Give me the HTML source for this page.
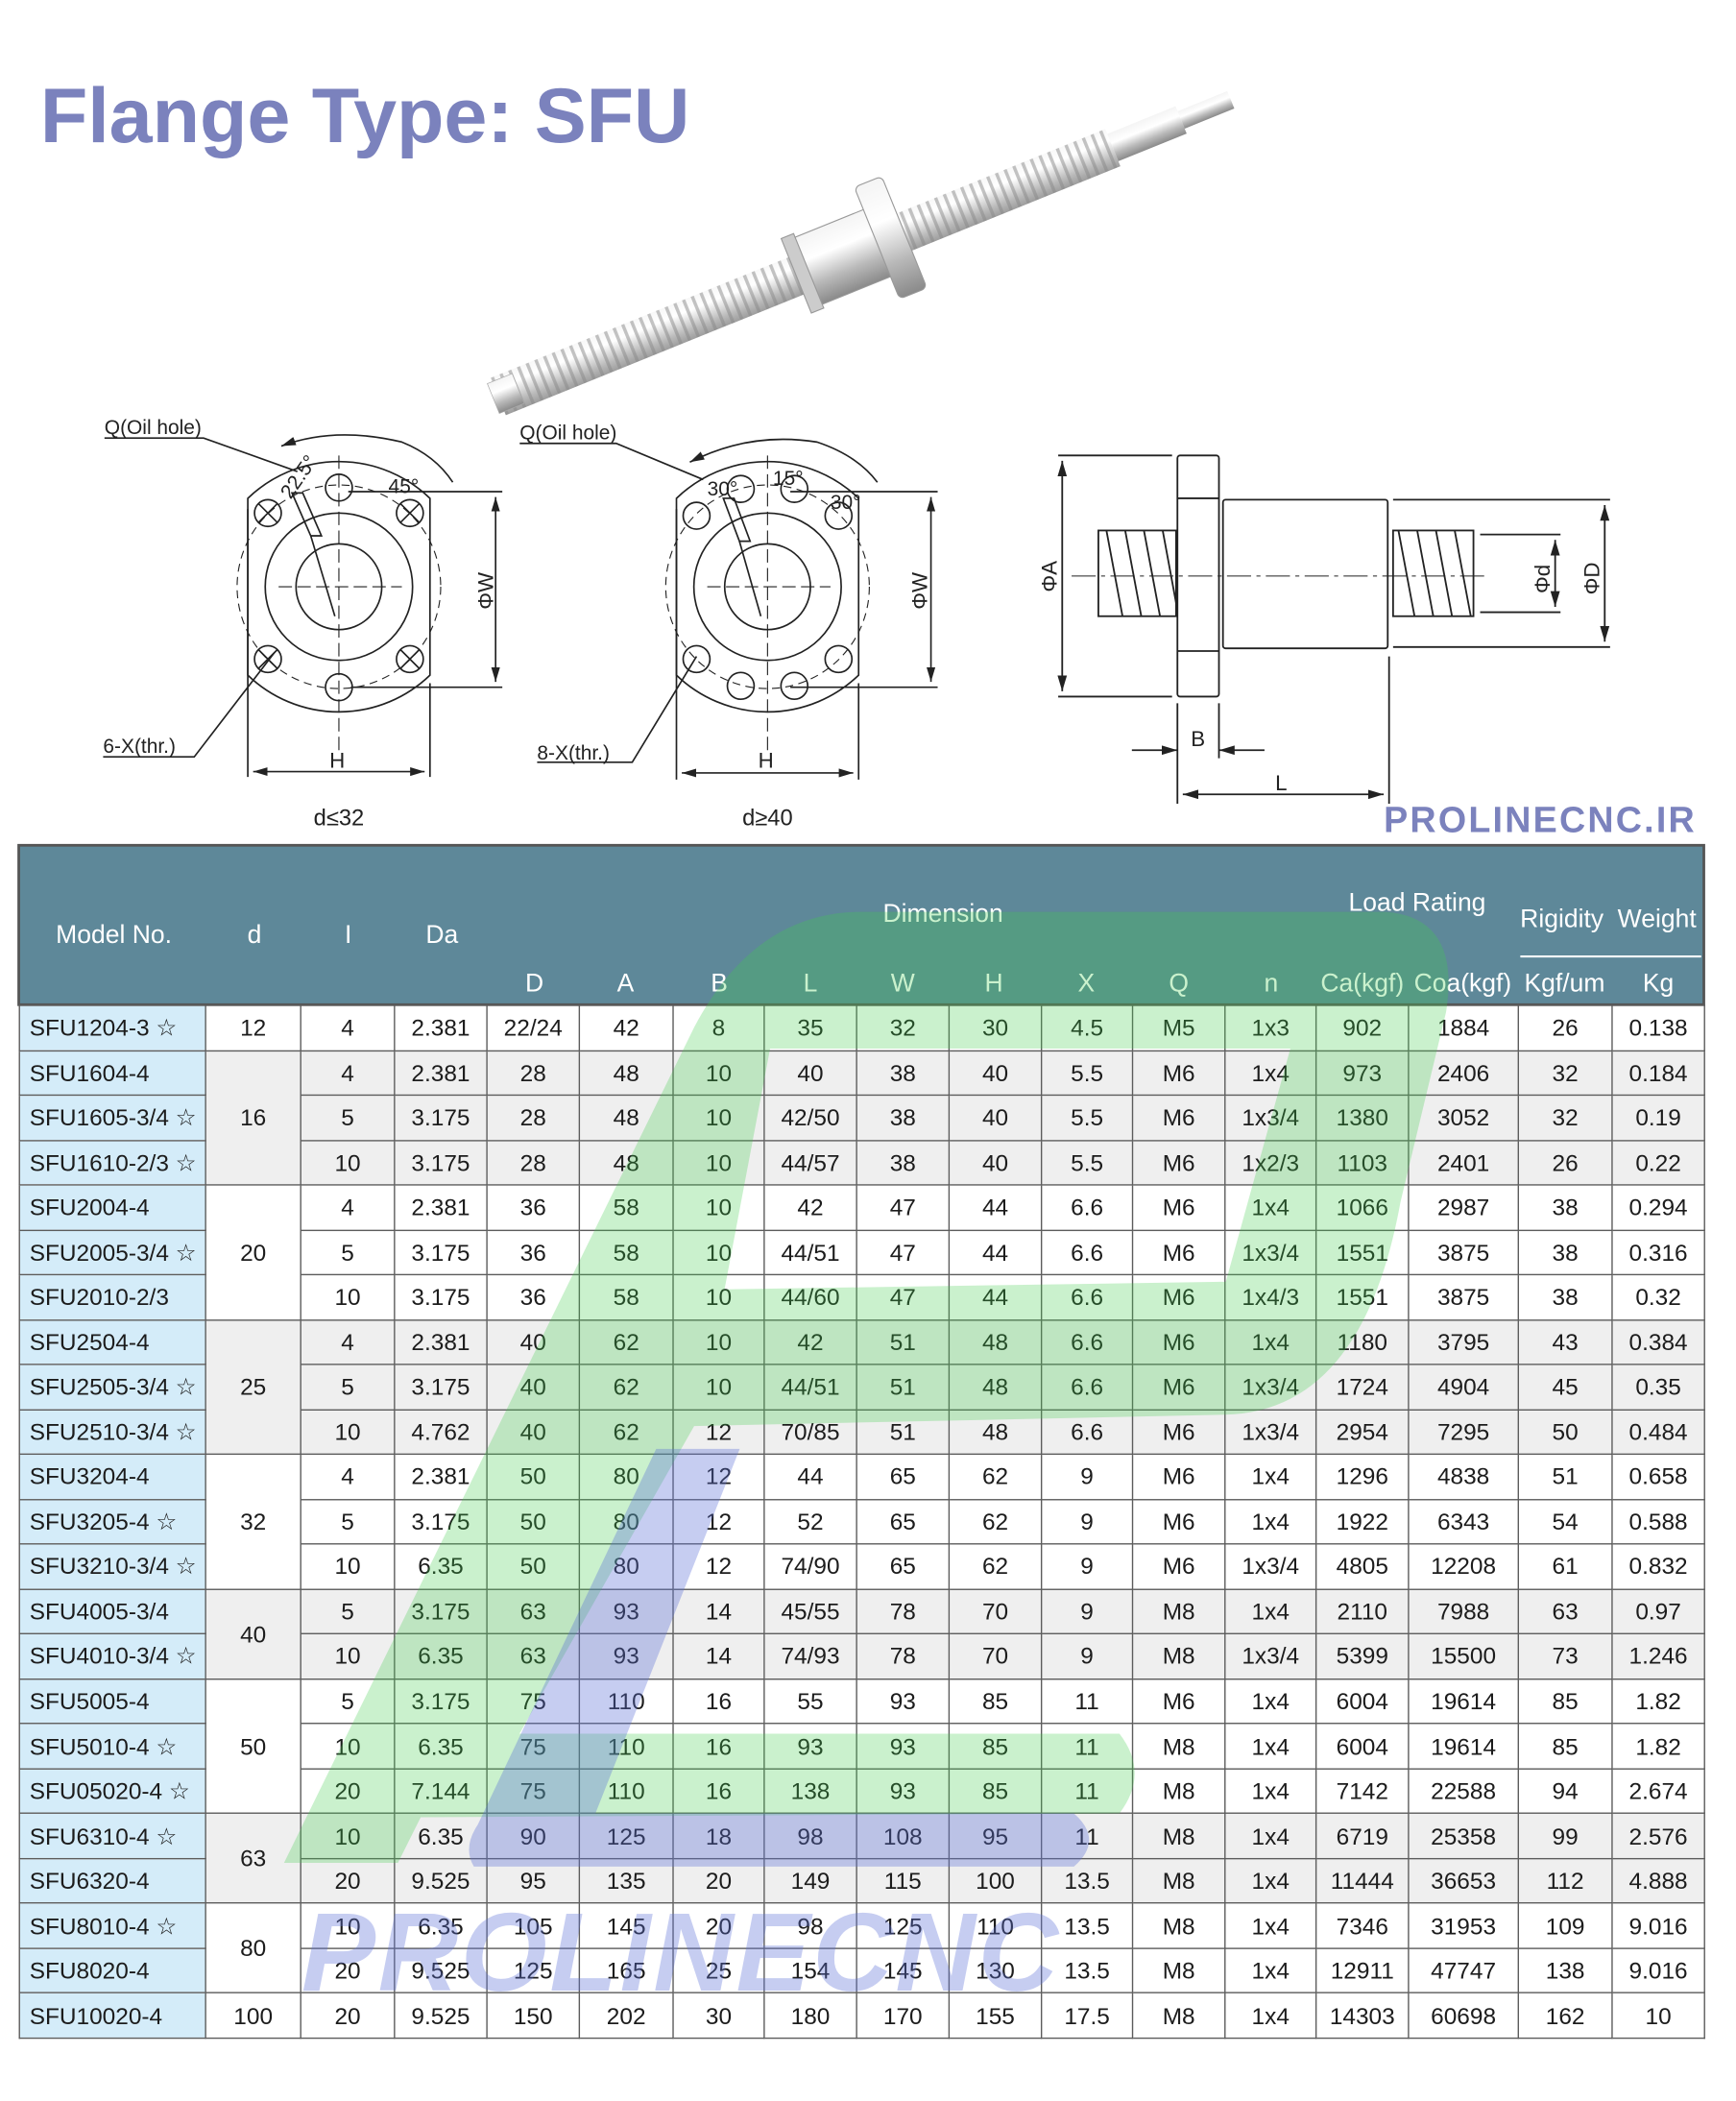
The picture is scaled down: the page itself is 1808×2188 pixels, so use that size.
<!DOCTYPE html>
<html><head><meta charset="utf-8">
<style>
html,body{margin:0;padding:0;background:#fff;}
body{width:1808px;height:2188px;overflow:hidden;position:relative;}
#wrap{position:absolute;left:0;top:0;width:1296px;height:1568px;transform:scale(1.39506);transform-origin:0 0;font-family:"Liberation Sans",sans-serif;}
svg{position:absolute;left:0;top:0;}
table{position:absolute;left:14px;top:750px;width:1258px;height:771px;border-collapse:collapse;table-layout:fixed;font-size:17.5px;color:#1c1c1c;}
tr{height:33.52px;}
td{border:1.5px solid #5c5c5c;padding:0;text-align:center;line-height:20px;white-space:nowrap;overflow:hidden;}
td.m{text-align:left;padding-left:7px;background:#d4ecf9;}
tr.w td{background:#fff;} tr.g td{background:#efefef;}
tr td.m{background:#d4ecf9;}
td.dw{background:#fff !important;} td.dg{background:#efefef !important;}
</style></head><body><div id="wrap">
<svg width="1296" height="1568" viewBox="0 0 1296 1568">
<defs>
<linearGradient id="sh" x1="0" y1="0" x2="0" y2="1"><stop offset="0" stop-color="#f4f4f4"/><stop offset=".35" stop-color="#ffffff"/><stop offset=".7" stop-color="#b9b9b9"/><stop offset="1" stop-color="#8a8a8a"/></linearGradient>
<pattern id="thr" width="7" height="40" patternUnits="userSpaceOnUse" y="-20"><rect width="7" height="40" fill="url(#sh)"/><rect width="2.5" height="40" fill="#888" opacity=".5"/></pattern>
<marker id="ar" viewBox="0 0 10 10" refX="10" refY="5" markerWidth="9" markerHeight="9" orient="auto-start-reverse"><path d="M0,2 L10,5 L0,8 Z" fill="#222"/></marker>
</defs>
<text x="30" y="106" font-size="58" font-weight="bold" fill="#7b82bd" textLength="485" font-family="Liberation Sans,sans-serif">Flange Type: SFU</text>
<g transform="translate(372,296) rotate(-22.05)">
<rect x="0" y="-15" width="495" height="30" fill="url(#thr)"/>
<rect x="-4" y="-12" width="20" height="24" fill="url(#sh)" stroke="#aaa" stroke-width=".5"/>
<rect x="495" y="-11" width="55" height="22" fill="url(#sh)"/>
<rect x="550" y="-7" width="40" height="14" fill="url(#sh)"/>
<rect x="245" y="-27" width="70" height="54" fill="url(#sh)" stroke="#999" stroke-width=".8"/>
<rect x="240" y="-30" width="10" height="60" fill="#ccc" stroke="#999" stroke-width=".8"/>
<rect x="305" y="-45" width="22" height="90" rx="4" fill="url(#sh)" stroke="#999" stroke-width=".8"/>
</g>
<g fill="none" stroke="#222" stroke-width="1.2">
<path d="M185,372 A98,98 0 0 1 321,372 L321,504 A98,98 0 0 1 185,504 Z"/>
<circle cx="253" cy="438" r="55"/><circle cx="253" cy="438" r="32"/>
<circle cx="253" cy="438" r="76" stroke-dasharray="6 4" stroke-width=".8"/>
<g><circle cx="253" cy="364" r="10"/><circle cx="200" cy="383" r="10"/><circle cx="306" cy="383" r="10"/><circle cx="200" cy="492" r="10"/><circle cx="306" cy="492" r="10"/><circle cx="253" cy="513" r="10"/>
<path d="M193,376 l14,14 M207,376 l-14,14 M299,376 l14,14 M313,376 l-14,14 M193,485 l14,14 M207,485 l-14,14 M299,485 l14,14 M313,485 l-14,14"/></g>
<path d="M253,340 L253,560 M208,438 L300,438" stroke-dasharray="10 4" stroke-width=".8"/>
<path d="M260,367 L375,367 M262,513 L375,513 M185,380 L185,580 M321,510 L321,580"/>
<path d="M370,371 L370,509" marker-start="url(#ar)" marker-end="url(#ar)"/>
<path d="M189,576 L317,576" marker-start="url(#ar)" marker-end="url(#ar)"/>
<path d="M210,333 Q250,318 300,330 Q325,340 338,360" marker-start="url(#ar)"/>
<path d="M78,327 L152,327 L222,352 M77,565 L145,565 L205,487"/>
<path d="M218,368 L232,400 L240,400 L226,368 Z M232,400 L250,460"/>
</g>
<g fill="none" stroke="#222" stroke-width="1.2">
<path d="M505,372 A98,98 0 0 1 641,372 L641,504 A98,98 0 0 1 505,504 Z"/>
<circle cx="573" cy="438" r="55"/><circle cx="573" cy="438" r="32"/>
<circle cx="573" cy="438" r="76" stroke-dasharray="6 4" stroke-width=".8"/>
<circle cx="553" cy="365" r="10"/><circle cx="593" cy="365" r="10"/><circle cx="520" cy="385" r="10"/><circle cx="626" cy="385" r="10"/><circle cx="520" cy="492" r="10"/><circle cx="626" cy="492" r="10"/><circle cx="553" cy="512" r="10"/><circle cx="593" cy="512" r="10"/>
<path d="M573,340 L573,560 M528,438 L620,438" stroke-dasharray="10 4" stroke-width=".8"/>
<path d="M590,367 L700,367 M590,513 L700,513 M505,380 L505,582 M641,510 L641,582"/>
<path d="M695,371 L695,509" marker-start="url(#ar)" marker-end="url(#ar)"/>
<path d="M509,577 L637,577" marker-start="url(#ar)" marker-end="url(#ar)"/>
<path d="M515,345 Q560,322 610,330 Q640,340 655,360" marker-start="url(#ar)"/>
<path d="M388,331 L460,331 L525,358 M401,569 L472,569 L520,490"/>
<path d="M540,372 L552,404 L560,404 L548,372 Z M552,404 L568,460"/>
</g>
<g font-family="Liberation Sans,sans-serif" font-size="15" fill="#222">
<text x="78" y="324">Q(Oil hole)</text><text x="77" y="562">6-X(thr.)</text>
<text x="388" y="328">Q(Oil hole)</text><text x="401" y="567">8-X(thr.)</text>
<text x="246" y="573" font-size="16">H</text><text x="566" y="573" font-size="16">H</text>
<text x="207" y="370" font-size="15" transform="rotate(-55 215 362)">22.5°</text>
<text x="290" y="368">45°</text>
<text x="528" y="370">30°</text><text x="577" y="362">15°</text><text x="620" y="380">30°</text>
<text transform="translate(368,455) rotate(-90)" font-size="16">ΦW</text>
<text transform="translate(692,455) rotate(-90)" font-size="16">ΦW</text>
<text x="253" y="616" text-anchor="middle" font-size="17">d≤32</text>
<text x="573" y="616" text-anchor="middle" font-size="17">d≥40</text>
</g>
<g fill="none" stroke="#222" stroke-width="1.3">
<rect x="879" y="340" width="31" height="180" rx="2"/>
<path d="M879,372 L910,372 M879,486 L910,486"/>
<rect x="913" y="373" width="123" height="111" rx="2"/>
<rect x="820" y="396" width="58" height="64"/>
<rect x="1040" y="396" width="60" height="64"/>
<path d="M826,396 L838,460 M840,396 L852,460 M854,396 L866,460 M868,396 L878,450 M1044,396 L1056,460 M1058,396 L1070,460 M1072,396 L1084,460 M1086,396 L1098,460"/>
<path d="M800,430 L1110,430" stroke-dasharray="18 4 3 4" stroke-width=".8"/>
<path d="M790,340 L875,340 M790,520 L875,520 M1040,373 L1202,373 M1040,483 L1202,483 M1105,399 L1165,399 M1105,457 L1165,457 M879,525 L879,600 M910,525 L910,566 M1037,490 L1037,600"/>
<path d="M793,344 L793,516" marker-start="url(#ar)" marker-end="url(#ar)"/>
<path d="M1198,377 L1198,479" marker-start="url(#ar)" marker-end="url(#ar)"/>
<path d="M1161,403 L1161,453" marker-start="url(#ar)" marker-end="url(#ar)"/>
<path d="M845,560 L879,560" marker-end="url(#ar)"/><path d="M944,560 L910,560" marker-end="url(#ar)"/>
<path d="M883,593 L1033,593" marker-start="url(#ar)" marker-end="url(#ar)"/>
</g>
<g font-family="Liberation Sans,sans-serif" font-size="16" fill="#222">
<text transform="translate(789,442) rotate(-90)">ΦA</text>
<text transform="translate(1157,443) rotate(-90)">Φd</text>
<text transform="translate(1194,444) rotate(-90)">ΦD</text>
<text x="889" y="557">B</text><text x="952" y="590">L</text>
</g>
<text x="1033" y="621" font-size="27" font-weight="bold" fill="#7b82bd" textLength="232" font-family="Liberation Sans,sans-serif">PROLINECNC.IR</text>
<rect x="14" y="631" width="1258" height="119" fill="#5e8899" stroke="#555" stroke-width="2"/>
<g font-family="Liberation Sans,sans-serif" font-size="19" fill="#fff" text-anchor="middle">
<text x="85" y="704">Model No.</text><text x="190" y="704">d</text><text x="260" y="704">I</text><text x="330" y="704">Da</text>
<text x="704" y="688">Dimension</text><text x="1058" y="680">Load Rating</text>
<text x="1166" y="692">Rigidity</text><text x="1237" y="692">Weight</text>
<text x="399" y="740">D</text><text x="467" y="740">A</text><text x="537" y="740">B</text><text x="605" y="740">L</text><text x="674" y="740">W</text><text x="742" y="740">H</text><text x="811" y="740">X</text><text x="880" y="740">Q</text><text x="949" y="740">n</text><text x="1017" y="740">Ca(kgf)</text><text x="1092" y="740">Coa(kgf)</text><text x="1168" y="740">Kgf/um</text><text x="1238" y="740">Kg</text>
</g>
<line x1="1135" y1="714" x2="1270" y2="714" stroke="#fff" stroke-width="1.5"/>
</svg>
<table>
<colgroup><col style="width:139px"><col style="width:71px"><col style="width:70px"><col style="width:69px"><col style="width:69px"><col style="width:70px"><col style="width:68px"><col style="width:69px"><col style="width:69px"><col style="width:69px"><col style="width:68px"><col style="width:69px"><col style="width:68px"><col style="width:69px"><col style="width:82px"><col style="width:70px"><col style="width:69px"></colgroup>
<tr class="w"><td class="m">SFU1204-3 ☆</td><td class="dw">12</td><td>4</td><td>2.381</td><td>22/24</td><td>42</td><td>8</td><td>35</td><td>32</td><td>30</td><td>4.5</td><td>M5</td><td>1x3</td><td>902</td><td>1884</td><td>26</td><td>0.138</td></tr>
<tr class="g"><td class="m">SFU1604-4</td><td rowspan="3" class="dg">16</td><td>4</td><td>2.381</td><td>28</td><td>48</td><td>10</td><td>40</td><td>38</td><td>40</td><td>5.5</td><td>M6</td><td>1x4</td><td>973</td><td>2406</td><td>32</td><td>0.184</td></tr>
<tr class="g"><td class="m">SFU1605-3/4 ☆</td><td>5</td><td>3.175</td><td>28</td><td>48</td><td>10</td><td>42/50</td><td>38</td><td>40</td><td>5.5</td><td>M6</td><td>1x3/4</td><td>1380</td><td>3052</td><td>32</td><td>0.19</td></tr>
<tr class="g"><td class="m">SFU1610-2/3 ☆</td><td>10</td><td>3.175</td><td>28</td><td>48</td><td>10</td><td>44/57</td><td>38</td><td>40</td><td>5.5</td><td>M6</td><td>1x2/3</td><td>1103</td><td>2401</td><td>26</td><td>0.22</td></tr>
<tr class="w"><td class="m">SFU2004-4</td><td rowspan="3" class="dw">20</td><td>4</td><td>2.381</td><td>36</td><td>58</td><td>10</td><td>42</td><td>47</td><td>44</td><td>6.6</td><td>M6</td><td>1x4</td><td>1066</td><td>2987</td><td>38</td><td>0.294</td></tr>
<tr class="w"><td class="m">SFU2005-3/4 ☆</td><td>5</td><td>3.175</td><td>36</td><td>58</td><td>10</td><td>44/51</td><td>47</td><td>44</td><td>6.6</td><td>M6</td><td>1x3/4</td><td>1551</td><td>3875</td><td>38</td><td>0.316</td></tr>
<tr class="w"><td class="m">SFU2010-2/3</td><td>10</td><td>3.175</td><td>36</td><td>58</td><td>10</td><td>44/60</td><td>47</td><td>44</td><td>6.6</td><td>M6</td><td>1x4/3</td><td>1551</td><td>3875</td><td>38</td><td>0.32</td></tr>
<tr class="g"><td class="m">SFU2504-4</td><td rowspan="3" class="dg">25</td><td>4</td><td>2.381</td><td>40</td><td>62</td><td>10</td><td>42</td><td>51</td><td>48</td><td>6.6</td><td>M6</td><td>1x4</td><td>1180</td><td>3795</td><td>43</td><td>0.384</td></tr>
<tr class="g"><td class="m">SFU2505-3/4 ☆</td><td>5</td><td>3.175</td><td>40</td><td>62</td><td>10</td><td>44/51</td><td>51</td><td>48</td><td>6.6</td><td>M6</td><td>1x3/4</td><td>1724</td><td>4904</td><td>45</td><td>0.35</td></tr>
<tr class="g"><td class="m">SFU2510-3/4 ☆</td><td>10</td><td>4.762</td><td>40</td><td>62</td><td>12</td><td>70/85</td><td>51</td><td>48</td><td>6.6</td><td>M6</td><td>1x3/4</td><td>2954</td><td>7295</td><td>50</td><td>0.484</td></tr>
<tr class="w"><td class="m">SFU3204-4</td><td rowspan="3" class="dw">32</td><td>4</td><td>2.381</td><td>50</td><td>80</td><td>12</td><td>44</td><td>65</td><td>62</td><td>9</td><td>M6</td><td>1x4</td><td>1296</td><td>4838</td><td>51</td><td>0.658</td></tr>
<tr class="w"><td class="m">SFU3205-4 ☆</td><td>5</td><td>3.175</td><td>50</td><td>80</td><td>12</td><td>52</td><td>65</td><td>62</td><td>9</td><td>M6</td><td>1x4</td><td>1922</td><td>6343</td><td>54</td><td>0.588</td></tr>
<tr class="w"><td class="m">SFU3210-3/4 ☆</td><td>10</td><td>6.35</td><td>50</td><td>80</td><td>12</td><td>74/90</td><td>65</td><td>62</td><td>9</td><td>M6</td><td>1x3/4</td><td>4805</td><td>12208</td><td>61</td><td>0.832</td></tr>
<tr class="g"><td class="m">SFU4005-3/4</td><td rowspan="2" class="dg">40</td><td>5</td><td>3.175</td><td>63</td><td>93</td><td>14</td><td>45/55</td><td>78</td><td>70</td><td>9</td><td>M8</td><td>1x4</td><td>2110</td><td>7988</td><td>63</td><td>0.97</td></tr>
<tr class="g"><td class="m">SFU4010-3/4 ☆</td><td>10</td><td>6.35</td><td>63</td><td>93</td><td>14</td><td>74/93</td><td>78</td><td>70</td><td>9</td><td>M8</td><td>1x3/4</td><td>5399</td><td>15500</td><td>73</td><td>1.246</td></tr>
<tr class="w"><td class="m">SFU5005-4</td><td rowspan="3" class="dw">50</td><td>5</td><td>3.175</td><td>75</td><td>110</td><td>16</td><td>55</td><td>93</td><td>85</td><td>11</td><td>M6</td><td>1x4</td><td>6004</td><td>19614</td><td>85</td><td>1.82</td></tr>
<tr class="w"><td class="m">SFU5010-4 ☆</td><td>10</td><td>6.35</td><td>75</td><td>110</td><td>16</td><td>93</td><td>93</td><td>85</td><td>11</td><td>M8</td><td>1x4</td><td>6004</td><td>19614</td><td>85</td><td>1.82</td></tr>
<tr class="w"><td class="m">SFU05020-4 ☆</td><td>20</td><td>7.144</td><td>75</td><td>110</td><td>16</td><td>138</td><td>93</td><td>85</td><td>11</td><td>M8</td><td>1x4</td><td>7142</td><td>22588</td><td>94</td><td>2.674</td></tr>
<tr class="g"><td class="m">SFU6310-4 ☆</td><td rowspan="2" class="dg">63</td><td>10</td><td>6.35</td><td>90</td><td>125</td><td>18</td><td>98</td><td>108</td><td>95</td><td>11</td><td>M8</td><td>1x4</td><td>6719</td><td>25358</td><td>99</td><td>2.576</td></tr>
<tr class="g"><td class="m">SFU6320-4</td><td>20</td><td>9.525</td><td>95</td><td>135</td><td>20</td><td>149</td><td>115</td><td>100</td><td>13.5</td><td>M8</td><td>1x4</td><td>11444</td><td>36653</td><td>112</td><td>4.888</td></tr>
<tr class="w"><td class="m">SFU8010-4 ☆</td><td rowspan="2" class="dw">80</td><td>10</td><td>6.35</td><td>105</td><td>145</td><td>20</td><td>98</td><td>125</td><td>110</td><td>13.5</td><td>M8</td><td>1x4</td><td>7346</td><td>31953</td><td>109</td><td>9.016</td></tr>
<tr class="w"><td class="m">SFU8020-4</td><td>20</td><td>9.525</td><td>125</td><td>165</td><td>25</td><td>154</td><td>145</td><td>130</td><td>13.5</td><td>M8</td><td>1x4</td><td>12911</td><td>47747</td><td>138</td><td>9.016</td></tr>
<tr class="w"><td class="m">SFU10020-4</td><td class="dw">100</td><td>20</td><td>9.525</td><td>150</td><td>202</td><td>30</td><td>180</td><td>170</td><td>155</td><td>17.5</td><td>M8</td><td>1x4</td><td>14303</td><td>60698</td><td>162</td><td>10</td></tr>
</table>
<svg width="1296" height="1568" viewBox="0 0 1296 1568" style="pointer-events:none">
<g transform="translate(200.7,630.8) scale(0.567)">
<path fill-rule="evenodd" fill="#3fcc4a" fill-opacity="0.28" d="M20,1340 L560,240 Q640,88 780,88 L1470,88 Q1570,95 1550,220 L1490,470 Q1440,745 1260,750 L560,765 L330,1170 L1120,1170 Q1160,1222 1120,1275 L200,1280 L170,1340 Z M660,268 L1345,268 L1260,575 L600,585 Z"/>
<path fill="#5b6fd6" fill-opacity="0.35" d="M510,795 L620,795 L430,1275 L1060,1275 Q1100,1310 1060,1345 L270,1345 Q255,1320 275,1290 Z"/>
</g>
<text x="225" y="1486" font-size="83" font-weight="bold" font-style="italic" fill="#5b6fd6" fill-opacity="0.35" textLength="565" font-family="Liberation Sans,sans-serif">PROLINECNC</text>
</svg>
</div></body></html>
